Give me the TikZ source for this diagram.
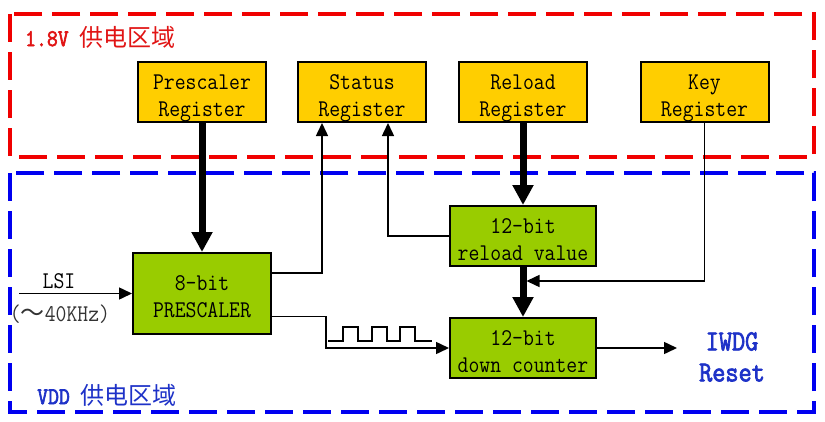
\documentclass[tikz,border=0pt]{standalone}
\usepackage{fontspec}
\setmainfont{Liberation Serif}
\newfontfamily\monofnt[FakeStretch=0.88]{Latin Modern Mono}
\newfontfamily\monobold[FakeStretch=0.88,FakeBold=2.5]{Latin Modern Mono}
\newfontfamily\cjk{Noto Sans CJK SC}
\usetikzlibrary{arrows.meta,calc}
\definecolor{regyellow}{RGB}{255,206,0}
\definecolor{bitgreen}{RGB}{153,204,0}
\definecolor{zonered}{RGB}{240,0,0}
\definecolor{zoneblue}{RGB}{0,0,240}
\definecolor{textblue}{RGB}{30,50,200}
\definecolor{textred}{RGB}{225,20,20}
\begin{document}
\begin{tikzpicture}[x=1pt,y=-1pt,
  plaintext/.style={font=\monofnt\fontsize{24}{27}\selectfont,align=center},
  boxtext/.style={plaintext,text height=48pt,text depth=0pt},
  regbox/.style={boxtext,draw=black,line width=2pt,fill=regyellow,minimum width=128pt,minimum height=60pt,inner sep=0pt},
  bitbox/.style={boxtext,draw=black,line width=2pt,fill=bitgreen,minimum width=146pt,minimum height=60pt,inner sep=0pt},
  zone/.style={line width=4pt,dash pattern=on 28pt off 10pt},
  bigarrow/.style={line width=7pt,-{Triangle[length=20pt,width=20pt]}},
  thinarrow/.style={line width=1.5pt,-{Triangle[length=13pt,width=12pt]}},
  wire/.style={line width=1.5pt},
  zonelabel/.style={font=\monobold\fontsize{24}{26}\selectfont,anchor=west,inner sep=0pt}
]
\useasboundingbox (0,0) rectangle (825,421);
\fill[white] (0,0) rectangle (825,421);

% zones
\draw[zone,zonered] (10,14) rectangle (814,157);
\draw[zone,zoneblue] (10,173) rectangle (814,412);
\node[zonelabel,text=textred] (lab18) at (25,37) {1.8V {\cjk 供电区域}};
\node[zonelabel,text=textblue] (labvdd) at (37,395) {VDD {\cjk 供电区域}};

% registers
\node[regbox] (preg) at (202,92) {Prescaler\\Register};
\node[regbox] (sreg) at (362,92) {Status\\Register};
\node[regbox] (rreg) at (523,92) {Reload\\Register};
\node[regbox] (kreg) at (704.5,92) {Key\\Register};

% green blocks
\node[bitbox,minimum width=138pt,minimum height=81pt] (pre) at (202,293.5) {8-bit\\PRESCALER};
\node[bitbox] (rv) at (523,236) {12-bit\\reload value};
\node[bitbox] (dc) at (523,348) {12-bit\\down counter};

% thick arrows
\draw[bigarrow] (preg.south) -- (pre.north);
\draw[bigarrow] (rreg.south) -- (rv.north);
\draw[bigarrow] (rv.south) -- (dc.north);

% status feedback
\coordinate (pretop) at ($(pre.north east)!0.25!(pre.south east)$);
\draw[thinarrow] (pretop) -| ([xshift=25pt]sreg.south west);
\draw[thinarrow] (rv.west) -| ([xshift=91pt]sreg.south west);

% key
\coordinate (keyin) at ($(rv.south)+(3.5,14)$);
\draw[thinarrow] (kreg.south) |- (keyin);

% LSI input
\coordinate (lsiin) at (19,293.5);
\draw[thinarrow] (lsiin) -- (pre.west);
\node[plaintext,inner sep=0pt] (lsi) at (59,281) {LSI};
\node[plaintext,inner sep=0pt,text=black!80] (lsif) at (60,314) {({\cjk ～}40KHz)};

% prescaler clock output
\coordinate (pout) at ($(pre.north east)!0.778!(pre.south east)$);
\draw[thinarrow] (pout) -- ++(54,0) |- (dc.west);
\draw[wire] (328,341) -- (343,341) -- (343,327) -- (358,327) -- (358,341)
  -- (372,341) -- (372,327) -- (387,327) -- (387,341)
  -- (400,341) -- (400,327) -- (415,327) -- (415,341) -- (432,341);

% output
\coordinate (rstend) at (677,348);
\draw[thinarrow] (dc.east) -- (rstend);
\node[font=\monobold\fontsize{29}{31}\selectfont,align=center,text=textblue,inner sep=0pt] (iwdg) at (732,357) {IWDG\\Reset};
\end{tikzpicture}
\end{document}
